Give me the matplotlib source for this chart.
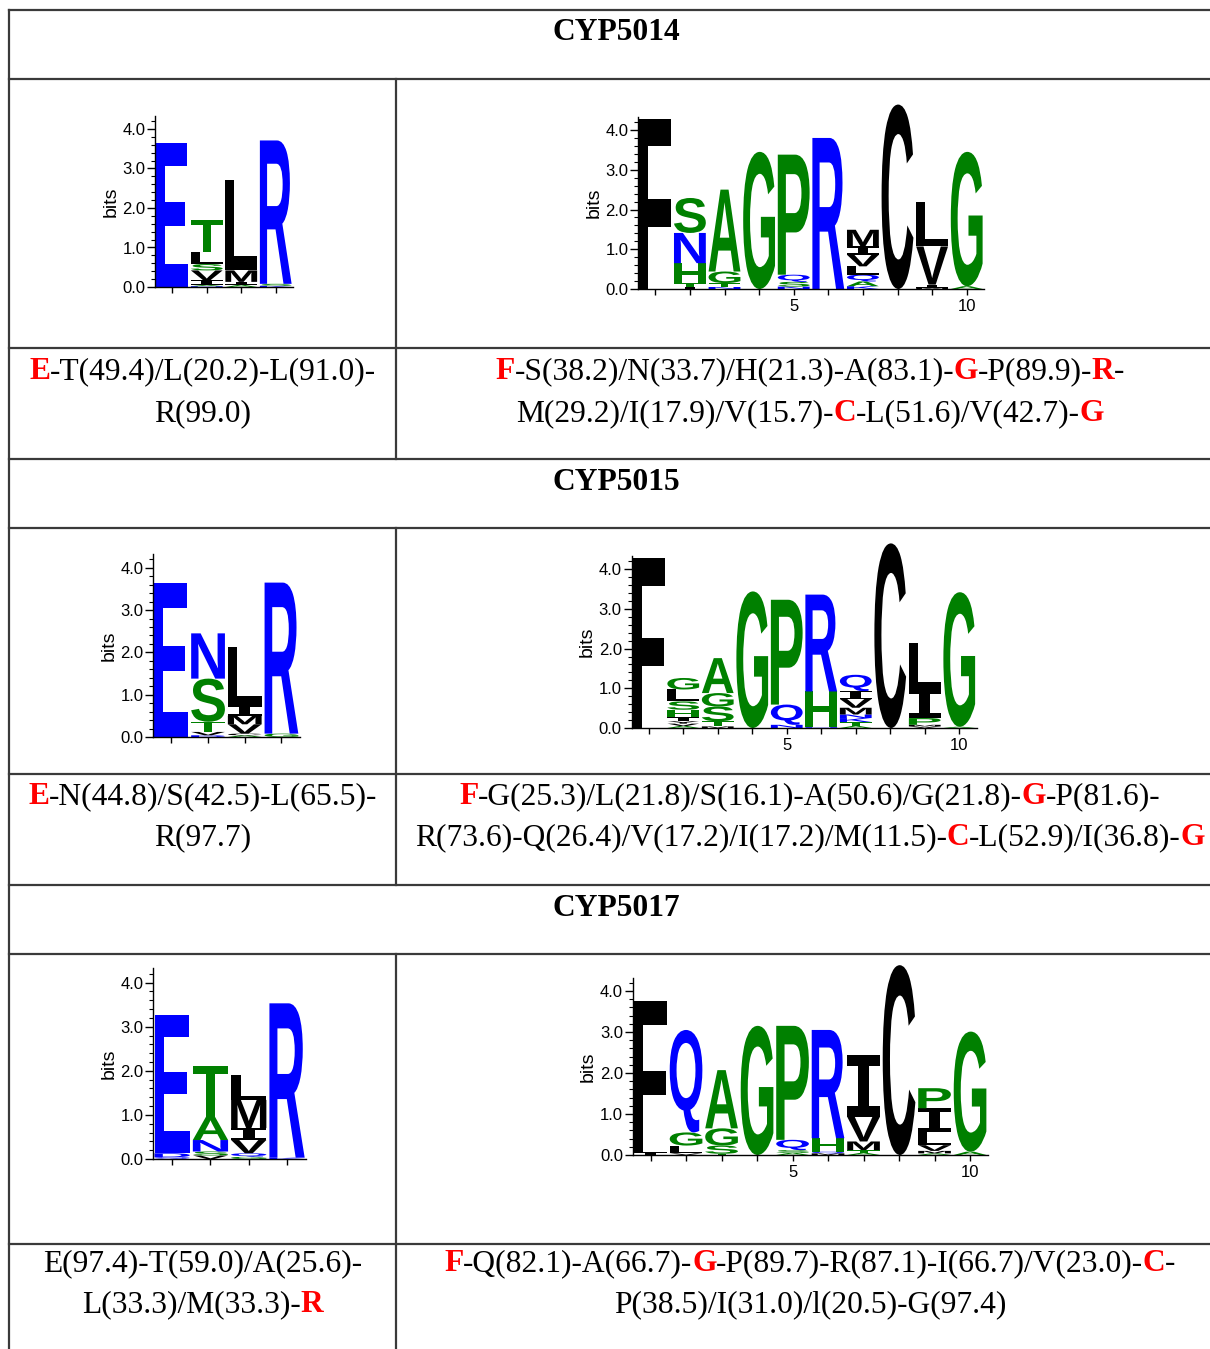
import matplotlib
matplotlib.use('Agg')
import matplotlib.pyplot as plt
from matplotlib.textpath import TextPath
from matplotlib.font_manager import FontProperties
from matplotlib.patches import PathPatch
from matplotlib.transforms import Affine2D, IdentityTransform
from matplotlib.ticker import MultipleLocator
from matplotlib.lines import Line2D

# ---------------- DATA ----------------
# each logo: list of positions, each position = stack of (letter, bits) bottom->top
cyp5014_motif1 = [
    [("E", 3.65)],
    [("N", 0.02), ("A", 0.03), ("I", 0.12), ("V", 0.25), ("S", 0.16), ("L", 0.31), ("T", 0.81)],
    [("A", 0.05), ("I", 0.08), ("M", 0.29), ("L", 2.28)],
    [("K", 0.03), ("S", 0.05), ("R", 3.63)],
]
cyp5014_motif2 = [
    [("F", 4.28)],
    [("I", 0.06), ("T", 0.09), ("H", 0.50), ("N", 0.76), ("S", 0.88)],
    [("N", 0.05), ("T", 0.10), ("G", 0.29), ("A", 2.06)],
    [("G", 3.45)],
    [("N", 0.06), ("S", 0.12), ("Q", 0.18), ("P", 3.02)],
    [("R", 3.80)],
    [("K", 0.07), ("A", 0.12), ("Q", 0.17), ("L", 0.21), ("V", 0.29), ("I", 0.21), ("M", 0.42)],
    [("C", 4.64)],
    [("M", 0.03), ("I", 0.08), ("V", 0.96), ("L", 1.12)],
    [("A", 0.07), ("G", 3.38)],
]
cyp5015_motif1 = [
    [("E", 3.65)],
    [("D", 0.04), ("V", 0.08), ("T", 0.24), ("S", 1.02), ("N", 1.07)],
    [("A", 0.04), ("C", 0.04), ("V", 0.22), ("M", 0.20), ("I", 0.25), ("L", 1.38)],
    [("G", 0.08), ("R", 3.57)],
]
cyp5015_motif2 = [
    [("F", 4.28)],
    [("A", 0.05), ("V", 0.06), ("Y", 0.06), ("I", 0.10), ("H", 0.19), ("S", 0.21), ("L", 0.30), ("G", 0.29)],
    [("M", 0.04), ("T", 0.13), ("S", 0.37), ("G", 0.34), ("A", 0.88)],
    [("G", 3.44)],
    [("N", 0.08), ("Q", 0.51), ("P", 2.64)],
    [("N", 0.02), ("H", 0.90), ("R", 2.44)],
    [("A", 0.05), ("T", 0.10), ("K", 0.10), ("N", 0.09), ("M", 0.17), ("V", 0.22), ("I", 0.20), ("Q", 0.41)],
    [("C", 4.65)],
    [("V", 0.04), ("M", 0.04), ("P", 0.17), ("I", 0.72), ("L", 1.17)],
    [("A", 0.03), ("G", 3.39)],
]
cyp5017_motif1 = [
    [("Q", 0.04), ("D", 0.09), ("E", 3.14)],
    [("V", 0.08), ("S", 0.09), ("N", 0.26), ("A", 0.53), ("T", 1.15)],
    [("G", 0.05), ("Q", 0.08), ("V", 0.30), ("I", 0.27), ("M", 0.64), ("L", 0.56)],
    [("K", 0.03), ("R", 3.50)],
]
cyp5017_motif2 = [
    [("I", 0.05), ("L", 0.07), ("F", 3.64)],
    [("V", 0.04), ("L", 0.19), ("G", 0.32), ("Q", 2.50)],
    [("T", 0.03), ("S", 0.20), ("G", 0.42), ("A", 1.42)],
    [("G", 3.15)],
    [("A", 0.05), ("S", 0.07), ("Q", 0.25), ("P", 2.78)],
    [("M", 0.04), ("Q", 0.04), ("H", 0.33), ("R", 2.64)],
    [("A", 0.05), ("T", 0.07), ("M", 0.21), ("V", 0.60), ("I", 1.51)],
    [("C", 4.63)],
    [("A", 0.04), ("M", 0.06), ("V", 0.14), ("L", 0.33), ("I", 0.57), ("P", 0.49)],
    [("A", 0.08), ("G", 2.93)],
]

headers = ["CYP5014", "CYP5015", "CYP5017"]
ytick_values = [0, 1, 2, 3, 4]
ytick_labels = ["0.0", "1.0", "2.0", "3.0", "4.0"]

# consensus text: (segment, highlighted)
text_5014_left = [[("E", True), ("-T(49.4)/L(20.2)-L(91.0)-", False)],
                  [("R(99.0)", False)]]
text_5014_right = [[("F", True), ("-S(38.2)/N(33.7)/H(21.3)-A(83.1)-", False), ("G", True),
                    ("-P(89.9)-", False), ("R", True), ("-", False)],
                   [("M(29.2)/I(17.9)/V(15.7)-", False), ("C", True), ("-L(51.6)/V(42.7)-", False), ("G", True)]]
text_5015_left = [[("E", True), ("-N(44.8)/S(42.5)-L(65.5)-", False)],
                  [("R(97.7)", False)]]
text_5015_right = [[("F", True), ("-G(25.3)/L(21.8)/S(16.1)-A(50.6)/G(21.8)-", False), ("G", True),
                    ("-P(81.6)-", False)],
                   [("R(73.6)-Q(26.4)/V(17.2)/I(17.2)/M(11.5)-", False), ("C", True),
                    ("-L(52.9)/I(36.8)-", False), ("G", True)]]
text_5017_left = [[("E(97.4)-T(59.0)/A(25.6)-", False)],
                  [("L(33.3)/M(33.3)-", False), ("R", True)]]
text_5017_right = [[("F", True), ("-Q(82.1)-A(66.7)-", False), ("G", True),
                    ("-P(89.7)-R(87.1)-I(66.7)/V(23.0)-", False), ("C", True), ("-", False)],
                   [("P(38.5)/I(31.0)/l(20.5)-G(97.4)", False)]]

# ---------------- STYLE ----------------
W, H = 1210, 1349
BLUE, GREEN, BLACK = "#0000FF", "#008000", "#000000"
COLORS = {}
for c in "RKDENQ":
    COLORS[c] = BLUE
for c in "SGHTAP":
    COLORS[c] = GREEN
for c in "YVMCLFIW":
    COLORS[c] = BLACK

fig = plt.figure(figsize=(W / 100, H / 100), dpi=100)
fig.patch.set_facecolor("white")

# table lines
bg = fig.add_axes([0, 0, 1, 1])
bg.set_xlim(0, W)
bg.set_ylim(H, 0)
bg.axis("off")
LC = "#3a3a3a"
LW = 1.6
for y in [10, 79, 348, 459, 528, 774, 885, 954, 1244]:
    bg.add_line(Line2D([9, W + 5], [y, y], color=LC, lw=LW))
bg.add_line(Line2D([9, 9], [10, H + 5], color=LC, lw=LW))
for y0, y1 in [(79, 459), (528, 885), (954, H + 5)]:
    bg.add_line(Line2D([396, 396], [y0, y1], color=LC, lw=LW))

SERIF = "Liberation Serif"
FS = 22.7
for hdr, yb in zip(headers, [40, 490, 916]):
    fig.text(616, H - yb, hdr, transform=IdentityTransform(), family=SERIF,
             weight="bold", fontsize=FS, ha="center", va="baseline")

renderer = fig.canvas.get_renderer()


def rich_line(cx, yb, segs):
    texts, widths = [], []
    for s, hl in segs:
        t = fig.text(0, H - yb, s, transform=IdentityTransform(), family=SERIF,
                     fontsize=FS, weight="bold" if hl else "normal",
                     color="#FF0000" if hl else "black", ha="left", va="baseline")
        texts.append(t)
        widths.append(t.get_window_extent(renderer).width)
    gap = -0.5
    total = sum(widths) + gap * (len(widths) - 1)
    x = cx - total / 2
    for t, w in zip(texts, widths):
        t.set_x(x)
        x += w + gap


for (cx, block, ybs) in [
    (203, text_5014_left, (379, 421)), (810, text_5014_right, (379, 421)),
    (203, text_5015_left, (804, 845)), (810, text_5015_right, (804, 845)),
    (203, text_5017_left, (1271, 1312)), (810, text_5017_right, (1271, 1312)),
]:
    for segs, yb in zip(block, ybs):
        rich_line(cx, yb, segs)

# ---------------- LOGOS ----------------
FP_SANS = FontProperties(family="Liberation Sans", weight="bold")
FP_MONO = FontProperties(family="DejaVu Sans Mono", weight="bold")
_cache = {}


def glyph(letter):
    if letter not in _cache:
        fp = FP_MONO if letter == "I" else FP_SANS
        p = TextPath((0, 0), letter, size=10, prop=fp)
        _cache[letter] = (p, p.get_extents())
    return _cache[letter]


def draw_logo(ax, columns, width=0.92):
    for i, col in enumerate(columns, start=1):
        y = 0.0
        for letter, h in col:
            p, ext = glyph(letter)
            tr = (Affine2D().translate(-ext.x0, -ext.y0)
                  .scale(width / ext.width, h / ext.height)
                  .translate(i - width / 2, y))
            ax.add_patch(PathPatch(tr.transform_path(p), facecolor=COLORS[letter],
                                   edgecolor="none", lw=0, clip_on=False))
            y += h


YTOP = 4.32
# (data, spine x px, baseline y px, px per bit, px per position, show x labels)
logo_specs = [
    (cyp5014_motif1, 155, 287, 39.5, 34.5, False),
    (cyp5014_motif2, 638, 289, 39.75, 34.6, True),
    (cyp5015_motif1, 153, 737, 42.3, 36.7, False),
    (cyp5015_motif2, 631.5, 728, 39.7, 34.5, True),
    (cyp5017_motif1, 153, 1159, 44.1, 38.3, False),
    (cyp5017_motif2, 632.8, 1155, 41.0, 35.5, True),
]
for data, sx, y0, ppb, pps, xl in logo_specs:
    n = len(data)
    wpx = n * pps
    hpx = YTOP * ppb
    ax = fig.add_axes([sx / W, (H - y0) / H, wpx / W, hpx / H])
    ax.set_xlim(0.5, n + 0.5)
    ax.set_ylim(0, YTOP)
    ax.patch.set_alpha(0)
    for s in ["top", "right"]:
        ax.spines[s].set_visible(False)
    for s in ["left", "bottom"]:
        ax.spines[s].set_linewidth(1.0)
    draw_logo(ax, data)
    ax.set_yticks(ytick_values)
    ax.set_yticklabels(ytick_labels)
    ax.yaxis.set_minor_locator(MultipleLocator(0.2))
    pos = list(range(1, n + 1))
    ax.set_xticks(pos)
    ax.set_xticklabels([str(p) if (xl and p % 5 == 0) else "" for p in pos])
    ax.tick_params(axis="y", which="major", direction="out", length=6, width=1.0,
                   labelsize=12, pad=1)
    ax.tick_params(axis="y", which="minor", direction="out", length=3, width=0.8)
    ax.tick_params(axis="x", which="major", direction="out", length=4, width=1.0,
                   labelsize=12, pad=3)
    for lab in ax.get_yticklabels() + ax.get_xticklabels():
        lab.set_family("Liberation Sans")
    ax.set_ylabel("bits", fontsize=14, family="Liberation Sans", labelpad=2)

fig.savefig("out.png", dpi=100, facecolor="white")
